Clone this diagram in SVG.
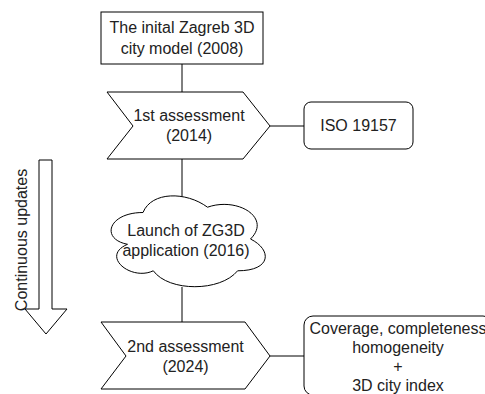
<svg xmlns="http://www.w3.org/2000/svg" width="485" height="394" viewBox="0 0 485 394">
<style>
.s{fill:#fff;stroke:#000;stroke-width:1}
.c{fill:none;stroke:#000;stroke-width:1}
.t{font-family:"Liberation Sans",Arial,sans-serif;font-size:16px;fill:#222;text-anchor:middle}
</style>
<rect width="485" height="394" fill="#fff"/>
<g id="connectors">
<line class="c" x1="182" y1="64" x2="182" y2="92"/>
<line class="c" x1="182" y1="159" x2="182" y2="198"/>
<line class="c" x1="182" y1="287" x2="182" y2="322"/>
<line class="c" x1="270" y1="126" x2="304" y2="126"/>
<line class="c" x1="270" y1="356" x2="304" y2="356"/>
</g>
<g id="n-initial">
<rect class="s" x="101" y="12" width="162" height="52"/>
<text class="t" x="182" y="33">The inital Zagreb 3D</text>
<text class="t" x="182" y="54">city model (2008)</text>
</g>
<g id="n-first">
<polygon class="s" points="107,92 243,92 270,126 243,159 107,159 133,126"/>
<text class="t" x="189" y="121">1st assessment</text>
<text class="t" x="189" y="140.5">(2014)</text>
</g>
<g id="n-iso">
<rect class="s" x="304" y="102" width="109" height="47" rx="7"/>
<text class="t" x="358.5" y="131">ISO 19157</text>
</g>
<g id="n-cloud">
<path class="s" d="M143,212.5 C108.4,212.5 100,239 127.5,244.3 C100,256 131,281.4 153.3,270.8 C168.8,292 220.4,292 237.6,270.8 C272,270.8 272,249.6 250.5,239 C272,217.8 237.6,196.6 207.5,207.2 C186,191.3 151.6,191.3 143,212.5 Z"/>
<text class="t" x="186" y="236">Launch of ZG3D</text>
<text class="t" x="186" y="255.5">application (2016)</text>
</g>
<g id="n-second">
<polygon class="s" points="101,322 245,322 270,356 245,389 101,389 126,356"/>
<text class="t" x="185.5" y="352">2nd assessment</text>
<text class="t" x="185.5" y="371.5">(2024)</text>
</g>
<g id="n-metrics">
<rect class="s" x="304" y="316" width="188" height="79" rx="9"/>
<text class="t" x="398" y="334">Coverage, completeness</text>
<text class="t" x="398" y="353">homogeneity</text>
<text class="t" x="398" y="372">+</text>
<text class="t" x="398" y="391">3D city index</text>
</g>
<g id="n-updates">
<polygon class="s" points="39,160 52,160 52,309 67,309 46,334 25,309 39,309"/>
<text class="t" transform="translate(26.5,240) rotate(-90)">Continuous updates</text>
</g>
</svg>
